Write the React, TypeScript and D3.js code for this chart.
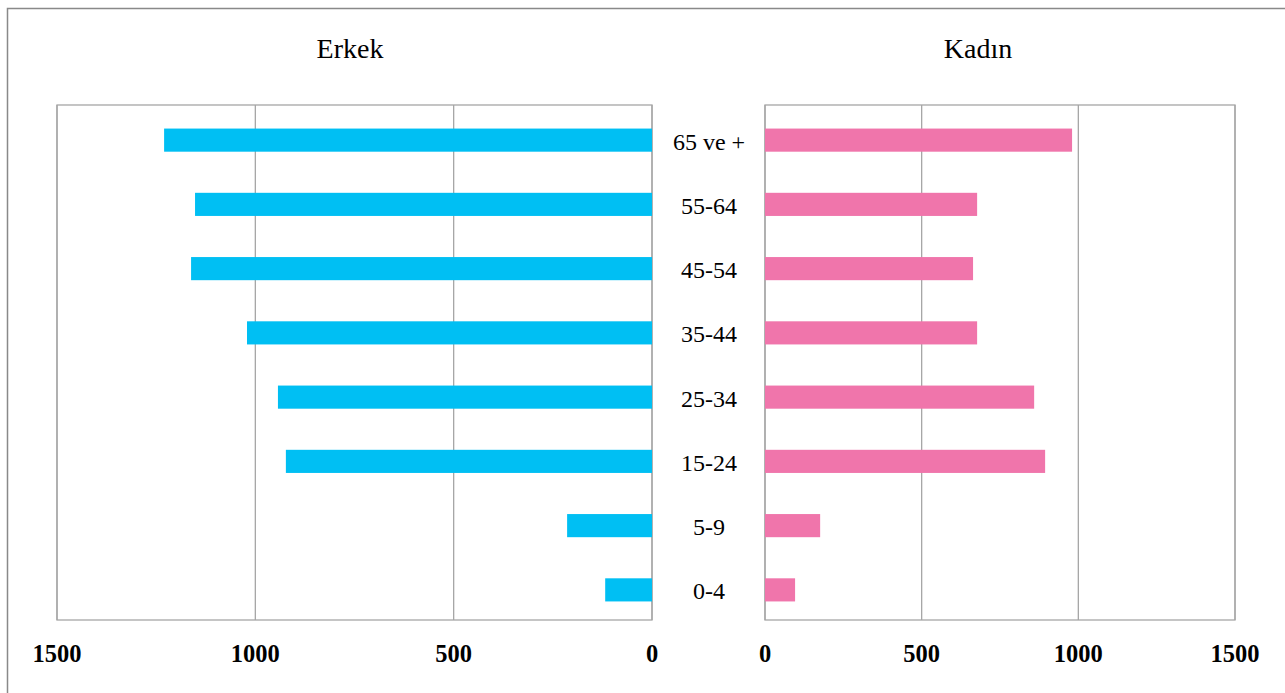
import React from "react";
import * as d3 from "d3";

const categories = ["65 ve +", "55-64", "45-54", "35-44", "25-34", "15-24", "5-9", "0-4"];
const maleValues = [1230, 1152, 1162, 1021, 943, 923, 214, 118];
const femaleValues = [980, 677, 664, 677, 859, 894, 176, 96];
const tickValues = [0, 500, 1000, 1500];
const titles = ["Erkek", "Kadın"];

const W = 1285;
const H = 693;
const plotTop = 105;
const plotBottom = 620;

export default function App() {
  const xMale = d3.scaleLinear().domain([0, 1500]).range([652, 57]);
  const xFemale = d3.scaleLinear().domain([0, 1500]).range([765, 1235]);
  const y = d3
    .scaleBand<string>()
    .domain(categories)
    .range([108, 622])
    .paddingInner(0.64)
    .paddingOuter(0.32);
  const bw = y.bandwidth();
  const font = "'Liberation Serif', 'Times New Roman', serif";
  const gridColor = "#a6a6a6";

  const panel = (x: d3.ScaleLinear<number, number>, values: number[], color: string, key: string) => {
    const [r0, r1] = x.range();
    const left = Math.min(r0, r1);
    const right = Math.max(r0, r1);
    return (
      <g key={key}>
        <rect x={left} y={plotTop} width={right - left} height={plotBottom - plotTop} fill="#fff" stroke={gridColor} strokeWidth={1.3} />
        {tickValues.map((t) => (
          <line key={t} x1={x(t)} x2={x(t)} y1={plotTop} y2={plotBottom} stroke={gridColor} strokeWidth={1.3} />
        ))}
        {categories.map((c, i) => {
          const a = x(0);
          const b = x(values[i]);
          return <rect key={c} x={Math.min(a, b)} y={y(c)} width={Math.abs(b - a)} height={bw} fill={color} />;
        })}
        {tickValues.map((t) => (
          <text key={"t" + t} x={x(t)} y={662} textAnchor="middle" fontFamily={font} fontWeight="bold" fontSize={24.5} fill="#000">
            {t}
          </text>
        ))}
      </g>
    );
  };

  return (
    <div style={{ position: "absolute", left: 0, top: 0 }}>
      <svg width={W} height={H} style={{ display: "block" }}>
        <rect x={0} y={0} width={W} height={H} fill="#fff" />
        <rect x={7.5} y={8.5} width={W + 20} height={H + 20} fill="none" stroke="#898989" strokeWidth={1.5} />
        {panel(xMale, maleValues, "#00BFF3", "m")}
        {panel(xFemale, femaleValues, "#F075AB", "f")}
        {categories.map((c) => (
          <text key={c} x={709} y={(y(c) as number) + bw / 2 + 9.5} textAnchor="middle" fontFamily={font} fontSize={24} fill="#000">
            {c}
          </text>
        ))}
        <text x={350} y={58} textAnchor="middle" fontFamily={font} fontSize={28} fill="#000">
          {titles[0]}
        </text>
        <text x={978} y={58} textAnchor="middle" fontFamily={font} fontSize={28} fill="#000">
          {titles[1]}
        </text>
      </svg>
    </div>
  );
}
